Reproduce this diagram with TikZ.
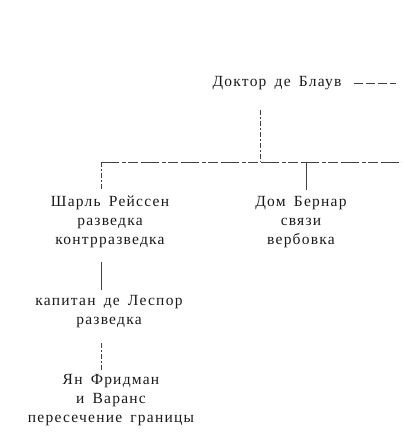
\documentclass[tikz,border=0pt]{standalone}
\usepackage{fontspec}
\setmainfont{Liberation Serif}[LetterSpace=8,WordSpace=1.6]
\begin{document}
\begin{tikzpicture}[x=1pt,y=-1pt,
  person/.style={align=center,font=\fontsize{15.5}{19}\selectfont,text=black!90,inner sep=2pt},
  link/.style={draw=black!75,line width=0.7pt},
  dlink/.style={link,dash pattern=on 5pt off 2pt on 2pt off 2pt},
  hlink/.style={link,dash pattern=on 18pt off 3pt on 4pt off 2pt on 10pt off 3pt}]
\useasboundingbox (0,0) rectangle (402,438);
\node[person] (doctor) at (277,83) {Доктор де Блаув};
\coordinate (dstart) at (354,83);
\coordinate (dend) at (396,83);
\coordinate (jtop) at (260,110);
\coordinate (j1) at (260,162);
\coordinate (jl) at (101,162);
\coordinate (jr) at (402,162);
\coordinate (jm) at (306,162);
\node[person] (charles) at (110,222) {Шарль Рейссен\\разведка\\контрразведка};
\node[person] (dom) at (301,222) {Дом Бернар\\связи\\вербовка};
\node[person] (captain) at (109,312) {капитан де Леспор\\разведка};
\node[person] (jan) at (111,400) {Ян Фридман\\и Варанс\\пересечение границы};
\coordinate (cl) at (101,190);
\coordinate (dl) at (306,190);
\coordinate (c1) at (101,262);
\coordinate (c2) at (101,290);
\coordinate (k1) at (101,343);
\coordinate (k2) at (101,370);
\draw[link,dash pattern=on 9pt off 3pt] (dstart) -- (dend);
\draw[dlink] (jtop) -- (j1);
\draw[hlink] (jl) -- (jr);
\draw[dlink] (jl) -- (cl);
\draw[link] (jm) -- (dl);
\draw[link] (c1) -- (c2);
\draw[dlink] (k1) -- (k2);
\end{tikzpicture}
\end{document}
